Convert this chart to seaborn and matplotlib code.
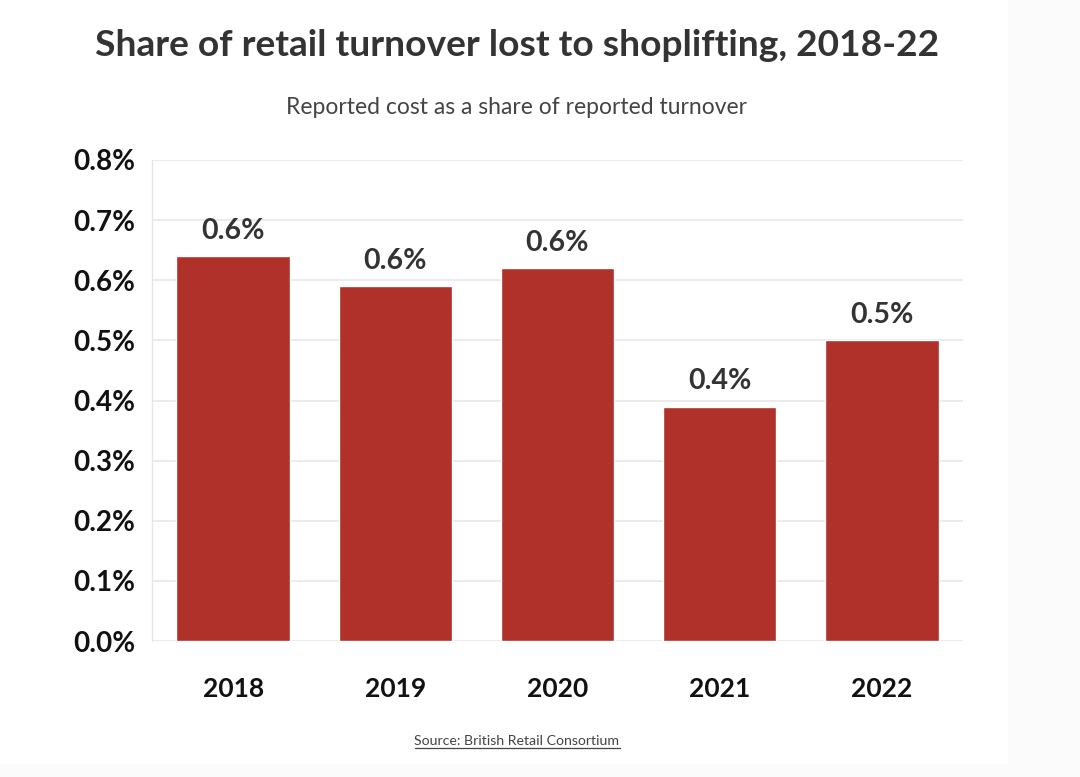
import matplotlib
matplotlib.use("Agg")
import matplotlib.pyplot as plt
import seaborn as sns
import pandas as pd
from matplotlib.lines import Line2D
from matplotlib.patches import Rectangle

years = ["2018", "2019", "2020", "2021", "2022"]
share = [0.64, 0.59, 0.62, 0.39, 0.50]
bar_labels = ["0.6%", "0.6%", "0.6%", "0.4%", "0.5%"]
yticks = [0.0, 0.1, 0.2, 0.3, 0.4, 0.5, 0.6, 0.7, 0.8]
ytick_labels = ["0.0%", "0.1%", "0.2%", "0.3%", "0.4%", "0.5%", "0.6%", "0.7%", "0.8%"]

title = "Share of retail turnover lost to shoplifting, 2018-22"
subtitle = "Reported cost as a share of reported turnover"
source = "Source: British Retail Consortium"

sns.set_theme(style="white")
plt.rcParams["font.family"] = ["Lato", "DejaVu Sans"]

df = pd.DataFrame({"year": years, "share": share})

fig = plt.figure(figsize=(10.8, 7.77), dpi=100)
fig.patch.set_facecolor("#fbfbfb")
fig.add_artist(Rectangle((0, 1 - 764 / 777), 1008 / 1080, 764 / 777,
                         transform=fig.transFigure, facecolor="white",
                         edgecolor="none", zorder=0))
ax = fig.add_axes([152 / 1080, 1 - 641 / 777, (963 - 152) / 1080, (641 - 160) / 777])
ax.set_facecolor("white")

sns.barplot(data=df, x="year", y="share", color="#b0302a", width=0.70,
            saturation=1, ax=ax, zorder=3)

ax.set_xlim(-0.5, 4.5)
ax.set_ylim(0, 0.8)
ax.set_yticks(yticks)
ax.set_yticklabels(ytick_labels, fontsize=20, fontweight="bold", color="#111111")
ax.tick_params(axis="y", length=10, color="#e6e6e6", width=1, pad=2)
ax.tick_params(axis="x", length=0, pad=26)
for lbl in ax.get_xticklabels():
    lbl.set_fontsize(19)
    lbl.set_fontweight("bold")
    lbl.set_color("#111111")
ax.set_xlabel("")
ax.set_ylabel("")
ax.yaxis.grid(True, color="#e8e8e8", linewidth=1.2, zorder=0)
ax.set_axisbelow(True)
for s in ["top", "right", "bottom"]:
    ax.spines[s].set_visible(False)
ax.spines["left"].set_color("#e6e6e6")
ax.spines["left"].set_linewidth(1)

for i, (v, t) in enumerate(zip(share, bar_labels)):
    ax.annotate(t, (i, v), xytext=(0, 9), textcoords="offset points",
                ha="center", va="bottom", fontsize=20.5, fontweight="bold",
                color="#333333")

cx = 517 / 1080
fig.text(cx, 1 - 46 / 777, title, ha="center", va="center", fontsize=26.7,
         fontweight="bold", color="#333333")
fig.text(cx, 1 - 108 / 777, subtitle, ha="center", va="center", fontsize=16.5,
         color="#444444")
src = fig.text(cx, 1 - 741 / 777, source, ha="center", va="center", fontsize=10.2,
               color="#444444")
fig.canvas.draw()
bb = src.get_window_extent(fig.canvas.get_renderer())
W, H = fig.bbox.width, fig.bbox.height
uy = (bb.y0 - 1) / H
fig.add_artist(Line2D([bb.x0 / W, bb.x1 / W], [uy, uy], transform=fig.transFigure,
                      color="#444444", linewidth=0.9))

fig.savefig("out.png", dpi=100, facecolor=fig.get_facecolor())
